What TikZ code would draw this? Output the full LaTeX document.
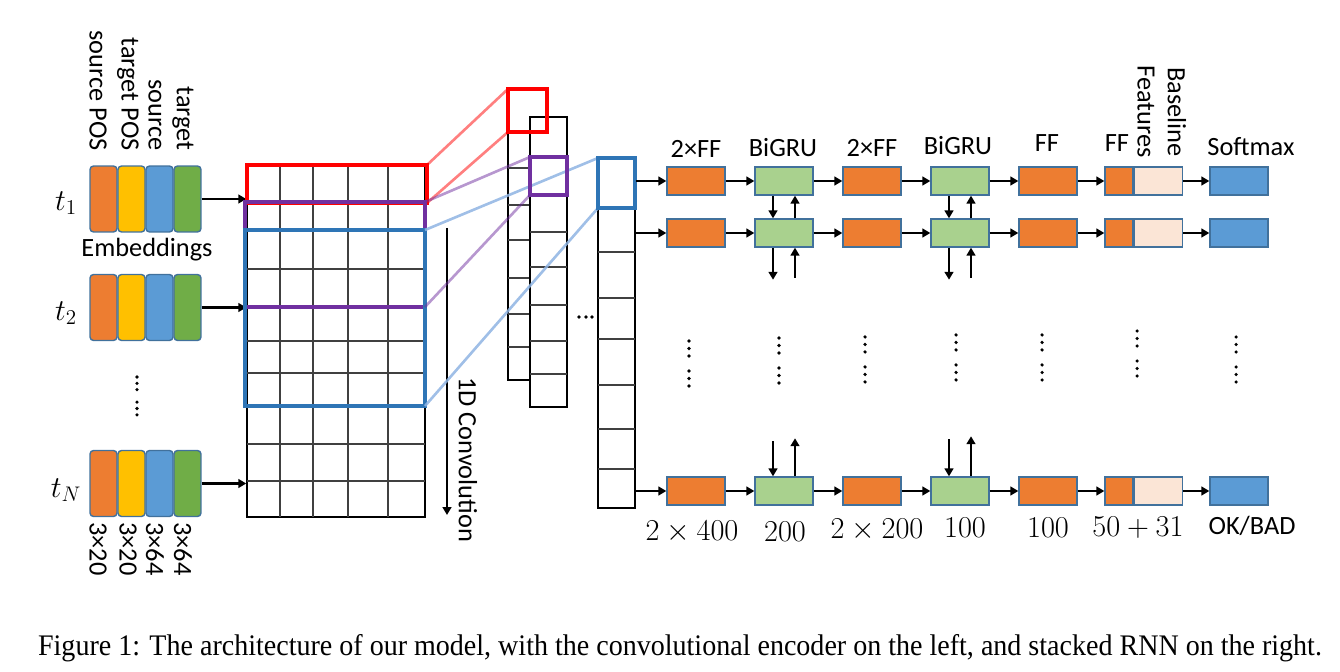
\documentclass[tikz,border=0pt]{standalone}
\usepackage[no-math]{fontspec}
\setmainfont{Carlito}
\newfontfamily\capfont{Liberation Serif}
\usetikzlibrary{calc,arrows.meta}

\definecolor{ffcol}{HTML}{ED7D31}
\definecolor{poscol}{HTML}{FFC000}
\definecolor{srccol}{HTML}{5B9BD5}
\definecolor{tgtcol}{HTML}{70AD47}
\definecolor{grucol}{HTML}{A9D18E}
\definecolor{featcol}{HTML}{FBE5D6}
\definecolor{edgecol}{HTML}{41719C}
\definecolor{winred}{HTML}{FF0000}
\definecolor{winpurple}{HTML}{7030A0}
\definecolor{winblue}{HTML}{2E75B6}
\definecolor{linkblue}{HTML}{8FB4E3}

\tikzset{
	lbl/.style={font=\fontsize{15}{18}\selectfont, inner sep=0pt},
	numlbl/.style={font=\fontsize{16}{19}\selectfont, inner sep=0pt},
	arr/.style={line width=1.4pt, -{Triangle[length=4.5pt,width=5pt]}},
	blk/.style={draw=edgecol, line width=0.8pt, inner sep=0pt, minimum width=1.16cm, minimum height=0.56cm},
	ffbox/.style={blk, fill=ffcol},
	grubox/.style={blk, fill=grucol},
	smallff/.style={blk, fill=ffcol, minimum width=0.56cm},
	featbox/.style={blk, fill=featcol, minimum width=0.96cm},
	softbox/.style={blk, fill=srccol},
	emb/.style={draw=edgecol, line width=0.8pt, rounded corners=2pt, minimum width=0.54cm, minimum height=1.32cm, inner sep=0pt},
	cellline/.style={black!75, line width=0.65pt},
	column/.style={draw, fill=white, line width=0.9pt, inner sep=0pt},
}

% one token: four embedding blocks
\newcommand{\embrow}[2]{
	\node[emb, fill=ffcol] (#1a) at (103.5,#2) {};
	\node[emb, fill=poscol] (#1b) at (131.5,#2) {};
	\node[emb, fill=srccol] (#1c) at (159.5,#2) {};
	\node[emb, fill=tgtcol] (#1d) at (187.5,#2) {};
	\draw[arr] (#1d) -- (#1d -| grid.west);
}

% one row of the stacked RNN
\newcommand{\rnnrow}[2]{
	\node[ffbox] (#1ffa) at (696,#2) {};
	\node[grubox] (#1grua) at (784,#2) {};
	\node[ffbox] (#1ffb) at (872,#2) {};
	\node[grubox] (#1grub) at (960,#2) {};
	\node[ffbox] (#1ffc) at (1048,#2) {};
	\node[smallff] (#1ffd) at (1119,#2) {};
	\node[featbox, anchor=west] (#1feat) at (#1ffd.east) {};
	\node[softbox] (#1soft) at (1239,#2) {};
	\draw[arr] (#1ffa -| colC.east) -- (#1ffa);
	\draw[arr] (#1ffa) -- (#1grua);
	\draw[arr] (#1grua) -- (#1ffb);
	\draw[arr] (#1ffb) -- (#1grub);
	\draw[arr] (#1grub) -- (#1ffc);
	\draw[arr] (#1ffc) -- (#1ffd);
	\draw[arr] (#1feat) -- (#1soft);
}

% six dots in two groups
\newcommand{\dotcol}[3]{
	\foreach \k in {0,1,2,4,5,6}
		\fill (#1,#2+\k*#3) circle (1pt);
}

\begin{document}
\begin{tikzpicture}[x=0.02cm,y=-0.02cm]
	\useasboundingbox (0,0) rectangle (1340,672);

	% input matrix
	\node[draw, line width=0.9pt, minimum width=3.56cm, minimum height=7.04cm, inner sep=0pt] (grid) at (336,341) {};
	\foreach \gx in {280,313,348,388}
		\draw[cellline] (\gx,165) -- (\gx,517);
	\foreach \gy in {202,230,269,307,341,373,407,444,481}
		\draw[cellline] (247,\gy) -- (425,\gy);

	\embrow{ea}{199}
	\embrow{eb}{307.5}
	\embrow{en}{483.5}

	\node[lbl, font=\fontsize{17}{20}\selectfont] (ta) at (66,203) {$t_1$};
	\node[lbl, font=\fontsize{17}{20}\selectfont] (tb) at (66,313) {$t_2$};
	\node[lbl, font=\fontsize{17}{20}\selectfont] (tn) at (66,490) {$t_N$};
	\node[lbl] (embname) at (147,250) {Embeddings};
	\dotcol{137}{377}{6.3}

	\node[lbl, rotate=-90, anchor=east] (nsrcpos) at (98,151) {source POS};
	\node[lbl, rotate=-90, anchor=east] (ntgtpos) at (128,151) {target POS};
	\node[lbl, rotate=-90, anchor=east] (nsrc) at (155,151) {source};
	\node[lbl, rotate=-90, anchor=east] (ntgt) at (183,151) {target};
	\node[lbl, rotate=-90, anchor=west] (dsrcpos) at (98,522) {3×20};
	\node[lbl, rotate=-90, anchor=west] (dtgtpos) at (128,522) {3×20};
	\node[lbl, rotate=-90, anchor=west] (dsrc) at (155,522) {3×64};
	\node[lbl, rotate=-90, anchor=west] (dtgt) at (183,522) {3×64};

	% convolution direction
	\coordinate (convtop) at (447,228);
	\coordinate (convbot) at (447,515);
	\draw[arr, line width=1.2pt] (convtop) -- (convbot);
	\node[lbl, rotate=-90, anchor=west] (convname) at (468,377) {1D Convolution};

	% feature maps
	\node[column, minimum width=0.78cm, minimum height=5.82cm] (colA) at (527.5,234.5) {};
	\foreach \gy in {132,168,205,240,278,314,347}
		\draw[cellline] (508,\gy) -- (547,\gy);
	\node[column, minimum width=0.74cm, minimum height=5.8cm] (colB) at (548.5,262) {};
	\foreach \gy in {157,195,232,267,305,341,374}
		\draw[cellline] (530,\gy) -- (567,\gy);
	\node[column, minimum width=0.74cm, minimum height=7cm] (colC) at (616.5,333) {};
	\foreach \gy in {208,252,298,339,385,429,469}
		\draw[cellline] (598,\gy) -- (635,\gy);
	\foreach \hx in {579,586,592}
		\fill (\hx,317) circle (1pt);

	% windows
	\draw[winred, line width=2.6pt] (247,165) rectangle (427,203);
	\draw[winpurple, line width=2.2pt] (245,202) rectangle (425,307);
	\draw[winblue, line width=2.6pt] (245,230) rectangle (425,406);
	\draw[winred, opacity=0.5, line width=1.5pt] (427,165) -- (508,89);
	\draw[winred, opacity=0.5, line width=1.5pt] (427,203) -- (508,132);
	\draw[winpurple, opacity=0.5, line width=1.5pt] (425,202) -- (530,157);
	\draw[winpurple, opacity=0.5, line width=1.5pt] (425,307) -- (530,195);
	\draw[linkblue, opacity=0.85, line width=1.5pt] (425,230) -- (598,158);
	\draw[linkblue, opacity=0.85, line width=1.5pt] (425,406) -- (598,208);
	\draw[winred, line width=2.6pt] (508,89) rectangle (547,132);
	\draw[winpurple, line width=2.2pt] (530,157) rectangle (567,195);
	\draw[winblue, line width=2.6pt] (598,158) rectangle (635,208);

	% stacked RNN
	\rnnrow{ra}{181}
	\rnnrow{rb}{233}
	\rnnrow{rn}{491}

	\draw[arr] ($(ragrua.south)+(-11,0)$) -- ($(rbgrua.north)+(-11,0)$);
	\draw[arr] ($(rbgrua.north)+(11,0)$) -- ($(ragrua.south)+(11,0)$);
	\draw[arr] ($(ragrub.south)+(-11,0)$) -- ($(rbgrub.north)+(-11,0)$);
	\draw[arr] ($(rbgrub.north)+(11,0)$) -- ($(ragrub.south)+(11,0)$);
	\draw[arr] ($(rbgrua.south)+(-11,0)$) -- ($(rbgrua.south)+(-11,32)$);
	\draw[arr] ($(rbgrua.south)+(11,30)$) -- ($(rbgrua.south)+(11,0)$);
	\draw[arr] ($(rbgrub.south)+(-11,0)$) -- ($(rbgrub.south)+(-11,32)$);
	\draw[arr] ($(rbgrub.south)+(11,30)$) -- ($(rbgrub.south)+(11,0)$);
	\draw[arr] ($(rngrua.north)+(-11,-35)$) -- ($(rngrua.north)+(-11,0)$);
	\draw[arr] ($(rngrua.north)+(11,0)$) -- ($(rngrua.north)+(11,-38)$);
	\draw[arr] ($(rngrub.north)+(-11,-37)$) -- ($(rngrub.north)+(-11,0)$);
	\draw[arr] ($(rngrub.north)+(11,0)$) -- ($(rngrub.north)+(11,-40)$);

	\dotcol{689}{341}{7.5}
	\dotcol{779}{338}{7.5}
	\dotcol{865}{337}{7.5}
	\dotcol{956}{335}{7.5}
	\dotcol{1042}{335}{7.5}
	\dotcol{1137}{331}{7.5}
	\dotcol{1236}{337}{7.5}

	\node[lbl] (nffa) at (696,149) {2×FF};
	\node[lbl] (ngrua) at (783,148) {BiGRU};
	\node[lbl] (nffb) at (872,148) {2×FF};
	\node[lbl] (ngrub) at (958,146) {BiGRU};
	\node[lbl] (nffc) at (1047,143) {FF};
	\node[lbl] (nffd) at (1117,143) {FF};
	\node[lbl, rotate=-90, anchor=east] (nfeat) at (1146,158) {Features};
	\node[lbl, rotate=-90, anchor=east] (nbase) at (1177,157) {Baseline};
	\node[lbl] (nsoft) at (1251,147) {Softmax};

	\node[numlbl] (sffa) at (692,532) {$2\times400$};
	\node[numlbl] (sgrua) at (785,532) {$200$};
	\node[numlbl] (sffb) at (877,530) {$2\times200$};
	\node[numlbl] (sgrub) at (965,528) {$100$};
	\node[numlbl] (sffc) at (1048,528) {$100$};
	\node[numlbl] (sfeat) at (1138,528) {$50+31$};
	\node[lbl] (ssoft) at (1252,526) {OK/BAD};

	\node[inner sep=0pt, font=\capfont\fontsize{17}{20}\selectfont] (caption) at (680,648)
		{\resizebox{25.68cm}{\height}{Figure 1: The architecture of our model, with the convolutional encoder on the left, and stacked RNN on the right.}};
\end{tikzpicture}
\end{document}
